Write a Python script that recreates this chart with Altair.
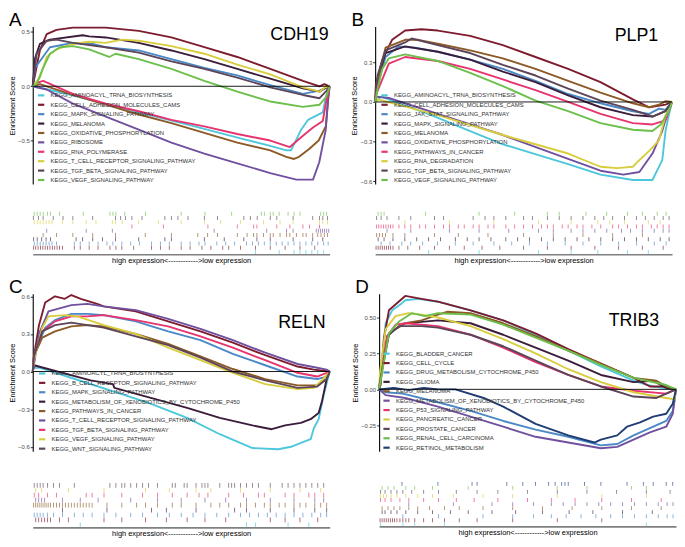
import altair as alt
import pandas as pd

FONT = "Liberation Sans"
PALETTE = ["#4CC7DC", "#7D1C2E", "#4A88C6", "#3B1C3B", "#8C5A26", "#70509F",
           "#E8336E", "#D8CD3C", "#5C4559", "#6CBF4A", "#1F3C74"]

W = 300
H_ES = 159
HIT_LABEL = "high expression<------------>low expression"

# ---------------- Panel A : CDH19 ----------------
A_NAMES = ["KEGG_AMINOACYL_TRNA_BIOSYNTHESIS", "KEGG_CELL_ADHESION_MOLECULES_CAMS",
           "KEGG_MAPK_SIGNALING_PATHWAY", "KEGG_MELANOMA", "KEGG_OXIDATIVE_PHOSPHORYLATION",
           "KEGG_RIBOSOME", "KEGG_RNA_POLYMERASE", "KEGG_T_CELL_RECEPTOR_SIGNALING_PATHWAY",
           "KEGG_TGF_BETA_SIGNALING_PATHWAY", "KEGG_VEGF_SIGNALING_PATHWAY"]
A_CURVES = {
    "KEGG_AMINOACYL_TRNA_BIOSYNTHESIS": [(0, 0), (10, -0.06), (30, -0.2), (54.5, -0.37), (70, -0.48), (80, -0.55), (85.4, -0.59), (87, -0.59), (90.4, -0.40), (92.7, -0.31), (97.7, -0.24), (98.7, -0.10), (100, 0)],
    "KEGG_CELL_ADHESION_MOLECULES_CAMS": [(0, 0), (2.4, 0.33), (4.7, 0.48), (8, 0.52), (13.5, 0.54), (24.6, 0.54), (35.7, 0.51), (46.7, 0.45), (57.8, 0.36), (68.9, 0.27), (80, 0.16), (91, 0.05), (96.6, 0.0), (98.2, 0.02), (100, 0)],
    "KEGG_MAPK_SIGNALING_PATHWAY": [(0, 0), (0.8, 0.17), (2.4, 0.23), (5.8, 0.36), (13.5, 0.40), (20.2, 0.39), (24.6, 0.36), (35.7, 0.33), (46.7, 0.25), (57.8, 0.17), (68.9, 0.10), (80, 0.01), (91, -0.07), (96.6, -0.04), (100, 0)],
    "KEGG_MELANOMA": [(0, 0), (0.8, 0.26), (2.4, 0.39), (5.8, 0.43), (16.8, 0.47), (19, 0.46), (24.6, 0.45), (35.7, 0.40), (46.7, 0.33), (57.8, 0.25), (68.9, 0.16), (80, 0.07), (91, -0.02), (96.6, -0.05), (98.8, -0.01), (100, 0)],
    "KEGG_OXIDATIVE_PHOSPHORYLATION": [(0, 0), (2.4, 0.02), (13.5, -0.08), (24.6, -0.17), (35.7, -0.26), (46.7, -0.34), (57.8, -0.43), (68.9, -0.52), (80, -0.59), (85.4, -0.65), (88, -0.67), (89.7, -0.65), (93, -0.58), (96.3, -0.50), (98.7, -0.37), (99.5, -0.13), (100, 0)],
    "KEGG_RIBOSOME": [(0, 0), (4.7, -0.03), (13.5, -0.16), (24.6, -0.28), (35.7, -0.40), (46.7, -0.52), (57.8, -0.62), (68.9, -0.71), (80, -0.80), (88.8, -0.86), (94.4, -0.86), (96.5, -0.70), (98.7, -0.40), (99.5, -0.10), (100, 0)],
    "KEGG_RNA_POLYMERASE": [(0, 0.02), (3.5, 0.05), (13.5, -0.07), (24.6, -0.16), (35.7, -0.23), (46.7, -0.31), (57.8, -0.37), (68.9, -0.44), (80, -0.50), (86.6, -0.56), (90.4, -0.47), (94.4, -0.38), (97.7, -0.32), (98.7, -0.16), (100, 0)],
    "KEGG_T_CELL_RECEPTOR_SIGNALING_PATHWAY": [(0, 0), (2.4, 0.08), (4.7, 0.27), (8, 0.34), (13.5, 0.39), (19, 0.41), (24.6, 0.40), (30.1, 0.43), (35.7, 0.42), (46.7, 0.37), (57.8, 0.30), (68.9, 0.20), (80, 0.11), (91, -0.01), (96.6, -0.05), (98.5, -0.01), (100, 0)],
    "KEGG_TGF_BETA_SIGNALING_PATHWAY": [(0, 0), (1.3, 0.30), (4.7, 0.42), (8, 0.43), (13.5, 0.40), (24.6, 0.36), (35.7, 0.31), (46.7, 0.23), (57.8, 0.16), (68.9, 0.08), (80, -0.01), (91, -0.08), (96.6, -0.11), (99, -0.04), (100, 0)],
    "KEGG_VEGF_SIGNALING_PATHWAY": [(0, 0), (1.3, 0.02), (3.5, 0.17), (5.8, 0.30), (9.1, 0.36), (13.5, 0.37), (19, 0.34), (25.7, 0.27), (27.9, 0.30), (35.7, 0.25), (46.7, 0.16), (57.8, 0.05), (68.9, -0.05), (80, -0.14), (91, -0.19), (96.6, -0.17), (98.8, -0.10), (100, 0)],
}
A_HITS = {
    "KEGG_AMINOACYL_TRNA_BIOSYNTHESIS": [75, 83, 88, 90, 92, 94, 96, 98],
    "KEGG_CELL_ADHESION_MOLECULES_CAMS": [0.3, 1, 1.8, 2.6, 3.4, 4.2, 5, 5.8, 6.6, 7.4, 8.2, 9, 10, 14, 16, 19, 22, 26, 28, 30, 34, 40, 43, 46, 50, 53, 57, 60, 64, 66, 70, 75, 80, 85, 90, 95],
    "KEGG_MAPK_SIGNALING_PATHWAY": [0.5, 1.5, 2.5, 3.5, 4.5, 5.5, 6.5, 8, 14, 16, 19, 22, 25, 27, 30, 33, 36, 40, 43, 46, 50, 53, 56, 58, 62, 65, 68, 72, 74, 76, 78, 80, 82, 84, 86, 88, 90, 92, 94, 96, 98, 99.5],
    "KEGG_MELANOMA": [0.3, 1.5, 3, 4.5, 6, 14.6, 16.8, 20.2, 23.5, 27.9, 35.7, 44.5, 46.7, 57.8, 64.5, 71.1, 75.5, 80, 87.7, 94.3, 97.7],
    "KEGG_OXIDATIVE_PHOSPHORYLATION": [3.5, 8, 13.5, 20.2, 27.9, 37.9, 46.7, 55.6, 58.9, 62.2, 68.9, 72.2, 74.4, 75.5, 77.7, 80, 81, 83.3, 85.5, 86.6, 88.8, 91, 92.1, 94.3, 96, 97.1, 98.2, 99.3],
    "KEGG_RIBOSOME": [4.7, 18, 26.8, 61.1, 78.8, 85.5, 87.7, 95.5, 96.2, 96.9, 97.6, 98.3, 99, 99.7],
    "KEGG_RNA_POLYMERASE": [33.4, 44, 59, 68.9, 74.4, 75.5, 82.2, 86.6, 91, 93.2, 96.6],
    "KEGG_T_CELL_RECEPTOR_SIGNALING_PATHWAY": [0.5, 1.5, 2.5, 3.5, 4.5, 5.5, 6.5, 10, 13.5, 18, 21.3, 26.8, 27.9, 30.1, 35.7, 42.3, 50, 57.8, 63.3, 70, 77.7, 83.3, 87.7, 96.6, 97.7, 99.3],
    "KEGG_TGF_BETA_SIGNALING_PATHWAY": [0.2, 1.9, 3.5, 6.9, 10.2, 13.5, 20.2, 27.9, 29.6, 31.2, 33.4, 36.8, 44.5, 46.7, 48.9, 52.3, 57.8, 62.2, 71.1, 73.3, 75.6, 80, 82.2, 87.7, 94.3, 96.6, 97.7, 99.3],
    "KEGG_VEGF_SIGNALING_PATHWAY": [0.5, 1.5, 2.5, 3.5, 5, 6, 9, 17, 26, 27, 28, 31, 38, 50, 58, 67, 77, 78, 80, 81, 83, 86, 88, 90, 97, 98, 99],
}

# ---------------- Panel B : PLP1 ----------------
B_NAMES = ["KEGG_AMINOACYL_TRNA_BIOSYNTHESIS", "KEGG_CELL_ADHESION_MOLECULES_CAMS",
           "KEGG_JAK_STAT_SIGNALING_PATHWAY", "KEGG_MAPK_SIGNALING_PATHWAY", "KEGG_MELANOMA",
           "KEGG_OXIDATIVE_PHOSPHORYLATION", "KEGG_PATHWAYS_IN_CANCER", "KEGG_RNA_DEGRADATION",
           "KEGG_TGF_BETA_SIGNALING_PATHWAY", "KEGG_VEGF_SIGNALING_PATHWAY"]
B_CURVES = {
    "KEGG_AMINOACYL_TRNA_BIOSYNTHESIS": [(0, 0), (2, 0.04), (18.9, -0.10), (32, -0.22), (43, -0.32), (56.1, -0.41), (65, -0.47), (75.9, -0.55), (86.8, -0.59), (93.4, -0.59), (96.7, -0.44), (97.8, -0.22), (98.9, -0.10), (100, 0)],
    "KEGG_CELL_ADHESION_MOLECULES_CAMS": [(0, 0), (0.2, 0.12), (2.4, 0.32), (5.7, 0.47), (10.1, 0.54), (15.6, 0.55), (21.1, 0.54), (32, 0.50), (43, 0.43), (54, 0.34), (65, 0.25), (75.9, 0.15), (86.8, 0.02), (92.3, -0.04), (97.8, -0.02), (100, 0)],
    "KEGG_JAK_STAT_SIGNALING_PATHWAY": [(0, 0), (1.3, 0.17), (3.5, 0.34), (7.9, 0.42), (13.4, 0.41), (21.1, 0.38), (32, 0.32), (43, 0.25), (54, 0.16), (65, 0.06), (75.9, -0.01), (86.8, -0.07), (92.3, -0.09), (95.6, -0.05), (97.8, -0.06), (100, 0)],
    "KEGG_MAPK_SIGNALING_PATHWAY": [(0, 0), (0.8, 0.17), (3.5, 0.37), (10.1, 0.42), (21.1, 0.38), (32, 0.32), (43, 0.23), (54, 0.15), (65, 0.05), (75.9, -0.04), (86.8, -0.10), (93.4, -0.11), (97.8, -0.07), (100, 0)],
    "KEGG_MELANOMA": [(0, 0), (0.8, 0.17), (3.5, 0.41), (10.1, 0.47), (14.5, 0.47), (21.1, 0.44), (32, 0.39), (43, 0.33), (54, 0.25), (65, 0.16), (75.9, 0.07), (86.8, -0.01), (92.3, -0.04), (95.6, -0.02), (97.8, 0.005), (100, 0)],
    "KEGG_OXIDATIVE_PHOSPHORYLATION": [(0, 0), (0.2, 0.04), (4.6, 0.03), (21.1, -0.09), (43, -0.25), (65, -0.43), (75.9, -0.52), (83.6, -0.55), (89, -0.53), (93.4, -0.39), (96.7, -0.22), (98.9, -0.05), (100, 0)],
    "KEGG_PATHWAYS_IN_CANCER": [(0, 0), (0.2, 0.05), (2.4, 0.17), (4.6, 0.29), (10.1, 0.34), (21.1, 0.31), (32, 0.25), (43, 0.17), (54, 0.09), (65, 0.0), (75.9, -0.09), (86.8, -0.16), (93.4, -0.17), (97.8, -0.14), (100, 0)],
    "KEGG_RNA_DEGRADATION": [(0, 0), (1, 0.02), (21.1, -0.10), (43, -0.25), (54, -0.32), (65, -0.39), (75.9, -0.49), (81.4, -0.50), (86.8, -0.49), (88.5, -0.45), (92.3, -0.37), (95.6, -0.29), (97.8, -0.10), (100, 0)],
    "KEGG_TGF_BETA_SIGNALING_PATHWAY": [(0, 0), (0.8, 0.20), (3.5, 0.39), (10.1, 0.45), (12.3, 0.48), (21.1, 0.43), (32, 0.37), (43, 0.28), (54, 0.20), (65, 0.10), (75.9, 0.01), (86.8, -0.06), (93.4, -0.11), (97.8, -0.07), (100, 0)],
    "KEGG_VEGF_SIGNALING_PATHWAY": [(0, 0), (0.8, 0.10), (2.4, 0.25), (4.6, 0.33), (10.1, 0.36), (21.1, 0.31), (32, 0.22), (43, 0.12), (54, 0.01), (65, -0.07), (75.9, -0.16), (86.8, -0.21), (93.4, -0.22), (96.2, -0.17), (98.9, -0.07), (100, 0)],
}
B_HITS = {
    "KEGG_AMINOACYL_TRNA_BIOSYNTHESIS": [18, 35, 55, 66, 75, 85, 92],
    "KEGG_CELL_ADHESION_MOLECULES_CAMS": [0.3, 1, 1.7, 2.4, 3.1, 3.8, 4.5, 5.2, 6, 8, 11, 15, 20, 25, 30, 36, 42, 50, 58, 66, 74, 82, 90, 97],
    "KEGG_JAK_STAT_SIGNALING_PATHWAY": [2, 5, 9, 12, 16, 21, 27, 33, 40, 46, 52, 58, 64, 70, 76, 82, 88, 94, 98],
    "KEGG_MAPK_SIGNALING_PATHWAY": [1, 3, 6, 10, 14, 18, 22, 27, 31, 35, 39, 44, 48, 52, 56, 60, 64, 68, 72, 76, 80, 84, 88, 92, 96, 99],
    "KEGG_MELANOMA": [0.5, 1.5, 2.5, 3.5, 6, 10, 20, 28, 38, 50, 60, 70, 80, 90],
    "KEGG_OXIDATIVE_PHOSPHORYLATION": [4, 12, 25, 35, 45, 55, 60, 66, 70, 74, 78, 83, 86, 90, 94, 97, 99],
    "KEGG_PATHWAYS_IN_CANCER": [0.5, 1.2, 2, 2.8, 3.6, 4.4, 5.2, 6, 8, 10, 12, 15, 17, 20, 23, 25, 28, 30, 33, 35, 38, 40, 44, 47, 50, 53, 56, 58, 60, 63, 65, 68, 70, 73, 76, 80, 82, 85, 88, 90, 93, 95, 97, 99],
    "KEGG_RNA_DEGRADATION": [10, 25, 40, 55, 66, 75, 79, 84, 92, 96],
    "KEGG_TGF_BETA_SIGNALING_PATHWAY": [0.5, 2, 4, 8, 12, 20, 23, 33, 37, 40, 44, 50, 53, 58, 62, 66, 70, 74, 77, 80, 84, 88, 91, 94, 97, 99],
    "KEGG_VEGF_SIGNALING_PATHWAY": [1, 2, 3, 17, 35, 47, 58, 62, 71, 78, 85, 90, 95, 98],
}

# ---------------- Panel C : RELN ----------------
C_NAMES = ["KEGG_AMINOACYL_TRNA_BIOSYNTHESIS", "KEGG_B_CELL_RECEPTOR_SIGNALING_PATHWAY",
           "KEGG_MAPK_SIGNALING_PATHWAY", "KEGG_METABOLISM_OF_XENOBIOTICS_BY_CYTOCHROME_P450",
           "KEGG_PATHWAYS_IN_CANCER", "KEGG_T_CELL_RECEPTOR_SIGNALING_PATHWAY",
           "KEGG_TGF_BETA_SIGNALING_PATHWAY", "KEGG_VEGF_SIGNALING_PATHWAY", "KEGG_WNT_SIGNALING_PATHWAY"]
C_CURVES = {
    "KEGG_AMINOACYL_TRNA_BIOSYNTHESIS": [(0, 0.03), (2.5, 0.03), (39, -0.25), (52, -0.37), (63, -0.50), (74, -0.61), (82.7, -0.62), (87, -0.60), (91.4, -0.56), (93.6, -0.54), (94.7, -0.45), (96.3, -0.38), (98, -0.19), (100, 0)],
    "KEGG_B_CELL_RECEPTOR_SIGNALING_PATHWAY": [(0, 0), (0.4, 0.12), (2.1, 0.37), (4.2, 0.55), (7.5, 0.60), (10.8, 0.58), (13, 0.61), (16.2, 0.58), (21.7, 0.54), (23.9, 0.52), (34.7, 0.48), (45.6, 0.40), (56.5, 0.32), (67.4, 0.23), (78.3, 0.13), (89.2, 0.04), (94.7, 0.015), (100, 0)],
    "KEGG_MAPK_SIGNALING_PATHWAY": [(0, 0), (1, 0.17), (4.2, 0.35), (7.5, 0.41), (13, 0.46), (18.4, 0.46), (23.9, 0.45), (34.7, 0.40), (45.6, 0.32), (56.5, 0.25), (67.4, 0.14), (78.3, 0.05), (89.2, -0.04), (95.8, -0.06), (99, -0.04), (100, 0)],
    "KEGG_METABOLISM_OF_XENOBIOTICS_BY_CYTOCHROME_P450": [(0, 0), (0.5, 0.05), (2, 0.04), (19.5, -0.07), (27, -0.10), (27.5, -0.13), (41.3, -0.22), (52, -0.29), (63, -0.37), (74, -0.43), (80.5, -0.46), (85, -0.43), (90.3, -0.41), (93.6, -0.38), (96.3, -0.33), (97.4, -0.24), (99, -0.06), (100, 0)],
    "KEGG_PATHWAYS_IN_CANCER": [(0, 0), (0.4, 0.12), (3.2, 0.27), (7.5, 0.32), (13, 0.36), (18.4, 0.37), (23.9, 0.36), (34.7, 0.30), (45.6, 0.22), (56.5, 0.12), (67.4, 0.02), (78.3, -0.06), (89.2, -0.11), (95.8, -0.11), (99, -0.06), (100, 0)],
    "KEGG_T_CELL_RECEPTOR_SIGNALING_PATHWAY": [(0, 0), (2.1, 0.30), (5.3, 0.48), (13, 0.53), (18.4, 0.54), (23.9, 0.52), (34.7, 0.49), (45.6, 0.42), (56.5, 0.34), (67.4, 0.25), (78.3, 0.15), (89.2, 0.06), (95.8, 0.03), (99, 0.015), (100, 0)],
    "KEGG_TGF_BETA_SIGNALING_PATHWAY": [(0, 0), (0.4, 0.12), (3.2, 0.32), (7.5, 0.40), (13, 0.44), (18.4, 0.44), (23.9, 0.45), (34.7, 0.41), (45.6, 0.36), (56.5, 0.28), (67.4, 0.19), (78.3, 0.09), (89.2, -0.01), (95.8, -0.04), (99, -0.01), (100, 0)],
    "KEGG_VEGF_SIGNALING_PATHWAY": [(0, 0), (0.4, 0.09), (3.2, 0.35), (5.3, 0.44), (10.8, 0.45), (15.1, 0.44), (23.9, 0.37), (34.7, 0.30), (45.6, 0.19), (56.5, 0.09), (67.4, -0.01), (78.3, -0.10), (89.2, -0.14), (94.7, -0.13), (97.4, -0.07), (100, 0)],
    "KEGG_WNT_SIGNALING_PATHWAY": [(0, 0), (0.4, 0.12), (3.2, 0.32), (7.5, 0.37), (13, 0.39), (23.9, 0.35), (34.7, 0.28), (45.6, 0.21), (56.5, 0.11), (67.4, 0.0), (78.3, -0.07), (89.2, -0.13), (95.8, -0.12), (99, -0.06), (100, 0)],
}
C_HITS = {
    "KEGG_AMINOACYL_TRNA_BIOSYNTHESIS": [16, 72, 75, 86, 93],
    "KEGG_B_CELL_RECEPTOR_SIGNALING_PATHWAY": [1, 2, 3, 4, 5, 6, 9, 12, 24, 30, 38, 45, 52, 58, 65, 80, 85, 90, 96],
    "KEGG_MAPK_SIGNALING_PATHWAY": [0.5, 1.5, 2.5, 3.5, 5, 7, 10, 14, 17, 20, 24, 28, 33, 37, 42, 46, 50, 54, 58, 62, 66, 70, 73, 76, 79, 82, 85, 88, 91, 94, 97, 99],
    "KEGG_METABOLISM_OF_XENOBIOTICS_BY_CYTOCHROME_P450": [10, 25, 40, 45, 55, 68, 72, 80, 88, 95, 99],
    "KEGG_PATHWAYS_IN_CANCER": [0.3, 1, 1.7, 2.4, 3.1, 3.8, 4.5, 5.2, 6, 7, 8, 9, 10, 11, 12, 13, 14, 15, 16, 17, 18, 19, 20, 25, 30, 35, 38, 42, 47, 50, 55, 60, 63, 66, 70, 72, 75, 78, 80, 83, 85, 88, 90, 92, 95, 97, 99],
    "KEGG_T_CELL_RECEPTOR_SIGNALING_PATHWAY": [1, 2, 3, 4, 10, 16, 22, 33, 42, 50, 58, 65, 72, 80, 88, 95, 98],
    "KEGG_TGF_BETA_SIGNALING_PATHWAY": [0.5, 2, 5, 8, 18, 20, 24, 30, 37, 42, 47, 52, 56, 59, 66, 71, 76, 78, 85, 88, 93, 95, 98],
    "KEGG_VEGF_SIGNALING_PATHWAY": [1, 3, 12, 24, 38, 46, 55, 60, 70, 80, 90, 97],
    "KEGG_WNT_SIGNALING_PATHWAY": [0.5, 1.5, 2.5, 3.5, 5, 7, 9, 14, 26, 28, 30, 31, 33, 35, 37, 39, 42, 47, 48, 51, 52, 55, 57, 58, 59, 63, 66, 67, 68, 70, 72, 74, 76, 80, 84, 86, 88, 90, 92, 94, 96, 98],
}

# ---------------- Panel D : TRIB3 ----------------
D_NAMES = ["KEGG_BLADDER_CANCER", "KEGG_CELL_CYCLE", "KEGG_DRUG_METABOLISM_CYTOCHROME_P450",
           "KEGG_GLIOMA", "KEGG_MELANOMA", "KEGG_METABOLISM_OF_XENOBIOTICS_BY_CYTOCHROME_P450",
           "KEGG_P53_SIGNALING_PATHWAY", "KEGG_PANCREATIC_CANCER", "KEGG_PROSTATE_CANCER",
           "KEGG_RENAL_CELL_CARCINOMA", "KEGG_RETINOL_METABOLISM"]
D_CURVES = {
    "KEGG_BLADDER_CANCER": [(0, 0), (0.5, 0.12), (2.2, 0.46), (4.4, 0.55), (7.7, 0.60), (8.8, 0.62), (13.2, 0.63), (19.8, 0.61), (30.8, 0.55), (41.8, 0.48), (52.7, 0.38), (63.7, 0.27), (74.7, 0.16), (85.7, 0.06), (92.3, 0.02), (100, 0)],
    "KEGG_CELL_CYCLE": [(0, 0), (0.5, 0.03), (1.6, 0.35), (3.3, 0.55), (5.5, 0.59), (8.8, 0.65), (14.3, 0.63), (19.8, 0.61), (30.8, 0.55), (41.8, 0.48), (52.7, 0.39), (63.7, 0.28), (74.7, 0.18), (85.7, 0.08), (91.2, 0.02), (96.7, 0.02), (100, 0)],
    "KEGG_DRUG_METABOLISM_CYTOCHROME_P450": [(0, 0), (2.2, -0.02), (8, -0.03), (19.8, -0.09), (30.8, -0.15), (41.8, -0.22), (52.7, -0.28), (63.7, -0.33), (74.7, -0.39), (80.2, -0.38), (85.7, -0.32), (91.2, -0.27), (96.7, -0.22), (98.9, -0.15), (100, 0)],
    "KEGG_GLIOMA": [(0, 0), (0.5, 0.10), (3.3, 0.39), (8.8, 0.46), (14.3, 0.47), (19.8, 0.48), (30.8, 0.46), (41.8, 0.38), (52.7, 0.29), (63.7, 0.20), (74.7, 0.10), (85.7, 0.05), (92.3, 0.06), (96.7, 0.01), (100, 0)],
    "KEGG_MELANOMA": [(0, 0), (0.5, 0.06), (2.7, 0.37), (5.5, 0.42), (8.8, 0.46), (14.3, 0.48), (19.8, 0.52), (23.1, 0.54), (30.8, 0.53), (41.8, 0.46), (52.7, 0.37), (63.7, 0.27), (74.7, 0.18), (85.7, 0.08), (93.4, 0.06), (96.7, 0.02), (100, 0)],
    "KEGG_METABOLISM_OF_XENOBIOTICS_BY_CYTOCHROME_P450": [(0, 0), (2.2, -0.04), (8.8, -0.06), (19.8, -0.12), (30.8, -0.19), (41.8, -0.26), (52.7, -0.33), (63.7, -0.37), (74.7, -0.41), (80.2, -0.40), (85.7, -0.35), (91.2, -0.30), (96.7, -0.26), (98.9, -0.17), (100, 0)],
    "KEGG_P53_SIGNALING_PATHWAY": [(0, 0), (0.5, 0.08), (2.7, 0.37), (5.5, 0.45), (8.8, 0.46), (19.8, 0.44), (30.8, 0.38), (41.8, 0.29), (52.7, 0.19), (63.7, 0.10), (74.7, 0.02), (85.7, -0.01), (96.7, -0.03), (100, 0)],
    "KEGG_PANCREATIC_CANCER": [(0, 0), (0.3, 0.12), (2.2, 0.42), (5.5, 0.51), (9.9, 0.53), (14.3, 0.52), (19.8, 0.50), (30.8, 0.44), (41.8, 0.35), (52.7, 0.25), (63.7, 0.14), (74.7, 0.05), (85.7, -0.02), (96.7, -0.06), (99.5, -0.07), (100, 0)],
    "KEGG_PROSTATE_CANCER": [(0, 0), (0.5, 0.08), (3.3, 0.38), (6.6, 0.44), (14.3, 0.44), (19.8, 0.43), (30.8, 0.38), (41.8, 0.30), (52.7, 0.20), (63.7, 0.10), (74.7, 0.02), (85.7, -0.05), (93.4, -0.06), (96.7, -0.03), (100, 0)],
    "KEGG_RENAL_CELL_CARCINOMA": [(0, 0), (0.5, 0.06), (3.3, 0.39), (6.6, 0.47), (11, 0.53), (15.4, 0.51), (19.8, 0.53), (30.8, 0.52), (41.8, 0.45), (52.7, 0.36), (63.7, 0.27), (74.7, 0.17), (85.7, 0.08), (96.7, 0.03), (100, 0)],
    "KEGG_RETINOL_METABOLISM": [(0, 0), (5, 0.01), (10, -0.005), (15, 0.01), (20, 0.0), (25.7, 0.0), (35.2, -0.06), (41.8, -0.12), (52.7, -0.24), (63.7, -0.32), (72.5, -0.37), (74.7, -0.35), (80.2, -0.32), (83.5, -0.26), (87.9, -0.23), (92.3, -0.19), (96.7, -0.17), (98.9, -0.10), (100, 0)],
}
D_HITS = {
    "KEGG_BLADDER_CANCER": [0.5, 8, 12, 22, 90],
    "KEGG_CELL_CYCLE": [0.3, 1, 1.7, 2.4, 3.1, 3.8, 4.5, 5.2, 6, 7, 8, 9, 10, 12, 15, 18, 22, 27, 33, 45, 60, 75],
    "KEGG_DRUG_METABOLISM_CYTOCHROME_P450": [8, 20, 35, 45, 52, 58, 63, 68, 73, 78, 82, 86, 90, 94, 97, 99],
    "KEGG_GLIOMA": [1, 2, 4, 6, 9, 13, 18, 24, 30, 38, 46, 55, 64, 72, 82, 92],
    "KEGG_MELANOMA": [1, 3, 5, 7, 10, 13, 17, 22, 27, 35, 45, 55, 65, 75, 85, 95],
    "KEGG_METABOLISM_OF_XENOBIOTICS_BY_CYTOCHROME_P450": [10, 25, 38, 45, 52, 58, 62, 66, 70, 74, 78, 82, 86, 90, 94, 97, 99],
    "KEGG_P53_SIGNALING_PATHWAY": [0.5, 2, 4, 7, 10, 15, 20, 26, 32, 40, 50, 58, 66, 75, 85, 95],
    "KEGG_PANCREATIC_CANCER": [0.5, 1.5, 2.5, 4, 6, 9, 13, 18, 25, 35, 45, 60, 75, 90],
    "KEGG_PROSTATE_CANCER": [0.5, 2, 4, 6, 8, 11, 15, 20, 26, 33, 40, 50, 60, 70, 80, 90, 98],
    "KEGG_RENAL_CELL_CARCINOMA": [1, 3, 5, 9, 12, 18, 30, 45, 60, 70, 85, 90],
    "KEGG_RETINOL_METABOLISM": [7.7, 19.8, 31.3, 33, 43, 48.4, 52.7, 57.1, 59.3, 61.5, 62.6, 63.7, 69.2, 74.7, 83.5, 89, 92.3, 96.7, 98.9],
}


def make_panel(letter, gene, names, curves, hits, ydom, yticks, yfmt,
               leg_x, leg_y, gene_dx, gene_y, gap, h_hit):
    colors = PALETTE[:len(names)]
    cscale = alt.Scale(domain=names, range=colors)

    rows = []
    for n in names:
        for i, (x, y) in enumerate(curves[n]):
            rows.append({"series": n, "x": x, "es": y, "i": i})
    df = pd.DataFrame(rows)

    yaxis = alt.Axis(values=yticks, format=yfmt, title="Enrichment Score", grid=False)
    yscale = alt.Scale(domain=ydom, nice=False, zero=False)
    xscale = alt.Scale(domain=[0, 100], nice=False, zero=False)

    lines = alt.Chart(df).mark_line(strokeWidth=1.9, strokeJoin="round").encode(
        x=alt.X("x:Q", scale=xscale, axis=None),
        y=alt.Y("es:Q", scale=yscale, axis=yaxis),
        color=alt.Color("series:N", scale=cscale, legend=alt.Legend(
            orient="none", legendX=leg_x, legendY=leg_y, title=None,
            symbolType="stroke", symbolStrokeWidth=2.2, symbolSize=40,
            labelFontSize=6, labelColor="#333333", labelFont=FONT,
            rowPadding=0.5, labelOffset=5, labelLimit=400, padding=0)),
        order="i:Q",
    )
    zero = alt.Chart(pd.DataFrame({"es": [0.0]})).mark_rule(
        color="black", strokeWidth=0.9).encode(
        y=alt.Y("es:Q", scale=yscale, axis=yaxis))
    gtxt = alt.Chart(pd.DataFrame({"t": [gene]})).mark_text(
        align="right", baseline="alphabetic", fontSize=18, font=FONT, color="black"
    ).encode(text="t:N", x=alt.value(W - gene_dx), y=alt.value(gene_y))
    ltxt = alt.Chart(pd.DataFrame({"t": [letter]})).mark_text(
        align="left", baseline="alphabetic", fontSize=19, font=FONT, color="black"
    ).encode(text="t:N", x=alt.value(-24), y=alt.value(-1))
    es = alt.layer(lines, zero, gtxt, ltxt).properties(width=W, height=H_ES)

    hrows = [{"series": n, "pos": p} for n in names for p in hits[n]]
    hd = pd.DataFrame(hrows)
    row_h = h_hit / len(names)
    ticks = alt.Chart(hd).mark_tick(thickness=0.9, size=row_h * 0.95, opacity=0.7).encode(
        x=alt.X("pos:Q", scale=xscale, axis=alt.Axis(
            title=HIT_LABEL, labels=False, ticks=False, grid=False,
            domainColor="#808080", domainWidth=1.6, titleFontSize=7.5,
            titleFontWeight="normal", titleColor="black", titlePadding=2, titleFont=FONT)),
        y=alt.Y("series:N", sort=list(reversed(names)), axis=None,
                scale=alt.Scale(paddingInner=0, paddingOuter=0)),
        color=alt.Color("series:N", scale=cscale, legend=None),
    ).properties(width=W, height=h_hit)

    return alt.vconcat(es, ticks, spacing=gap).resolve_scale(color="independent")


pA = make_panel("A", "CDH19", A_NAMES, A_CURVES, A_HITS, [-0.9, 0.55], [-0.5, 0.0, 0.5], ".1f", 4, 65, 1, 14, 27, 43)
pB = make_panel("B", "PLP1", B_NAMES, B_CURVES, B_HITS, [-0.62, 0.57], [-0.6, -0.3, 0.0, 0.3], ".1f", 5, 65, 14, 15, 27, 43)
pC = make_panel("C", "RELN", C_NAMES, C_CURVES, C_HITS, [-0.635, 0.62], [-0.6, -0.3, 0.0, 0.3, 0.6], ".1f", 5, 76, 4, 35, 30, 45)
pD = make_panel("D", "TRIB3", D_NAMES, D_CURVES, D_HITS, [-0.43, 0.665], [-0.25, 0.0, 0.25, 0.5], ".2f", 3, 56, 17, 33, 30, 45)

chart = alt.vconcat(
    alt.hconcat(pA, pB, spacing=20).resolve_scale(color="independent"),
    alt.hconcat(pC, pD, spacing=20).resolve_scale(color="independent"),
    spacing=14,
).resolve_scale(color="independent").properties(
    padding={"left": 0, "top": 0, "right": 0, "bottom": 0}
).configure_view(stroke=None).configure_axis(
    domainColor="black", domainWidth=1.1, tickColor="#333333", tickSize=2.5,
    labelColor="#4D4D4D", labelFontSize=6, labelFont=FONT, labelPadding=1,
    titleFontSize=7.5, titleFontWeight="normal", titleColor="black", titleFont=FONT,
    titlePadding=1.5,
)

chart.save("out.html", embed_options={"renderer": "svg", "actions": False})
